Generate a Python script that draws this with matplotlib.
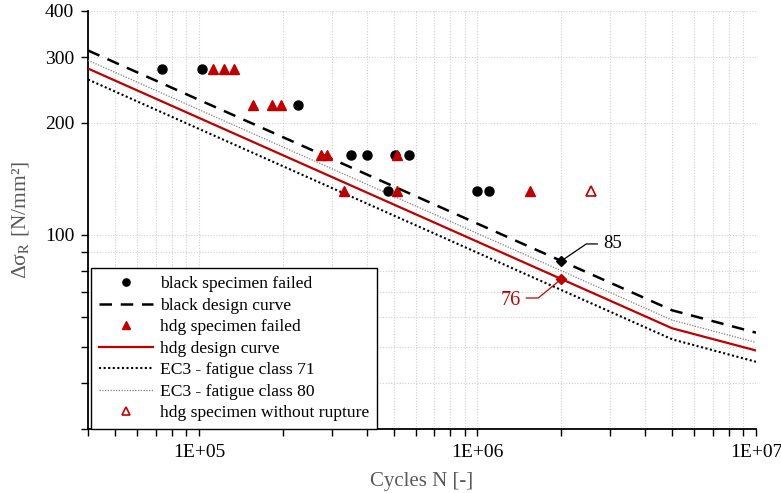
import matplotlib
matplotlib.use("Agg")
import matplotlib.pyplot as plt
from matplotlib.ticker import FixedLocator, NullFormatter, FixedFormatter

plt.rcParams["font.family"] = ["Liberation Serif", "DejaVu Serif"]
plt.rcParams["mathtext.fontset"] = "stix"

# design curve breakpoints (N, stress range) - EC3 style curves
curve_n = [4e4, 2e6, 5e6, 1e7]
black_curve = [313.2, 85.0, 62.6, 54.5]
hdg_curve = [280.0, 76.0, 56.0, 48.8]
ec3_71 = [261.6, 71.0, 52.3, 45.5]
ec3_80 = [294.7, 80.0, 58.9, 51.3]

# test results
black_n = [7.4e4, 1.025e5, 2.27e5, 3.52e5, 4.02e5, 5.07e5, 5.69e5, 4.79e5, 1.0e6, 1.10e6]
black_s = [280, 280, 224, 164, 164, 164, 164, 131, 131, 131]
hdg_n = [1.12e5, 1.23e5, 1.34e5, 1.56e5, 1.83e5, 1.97e5, 2.74e5, 2.88e5, 3.32e5, 5.15e5, 5.15e5, 1.54e6]
hdg_s = [280, 280, 280, 223, 223, 223, 164, 164, 131, 164, 131, 131]
runout_n = [2.55e6]
runout_s = [131]

ref_n = 2e6
ref_black = 85
ref_hdg = 76

RED = "#c00000"

fig = plt.figure(figsize=(7.81, 4.93), dpi=100)
ax = fig.add_axes([0.1127, 0.1298, 0.968 - 0.1127, 0.9777 - 0.1298])
ax.set_xscale("log")
ax.set_yscale("log")
ax.set_xlim(4e4, 1e7)
ax.set_ylim(30, 400)

ax.plot(black_n, black_s, "o", color="black", ms=6.5, ls="none",
        label="black specimen failed", zorder=4)
ax.plot(curve_n, black_curve, color="black", ls=(0, (5, 3.5)), lw=1.8,
        label="black design curve", zorder=3)
ax.plot(hdg_n, hdg_s, "^", color=RED, ms=7.5, ls="none",
        label="hdg specimen failed", zorder=5)
ax.plot(curve_n, hdg_curve, color=RED, lw=1.6, label="hdg design curve", zorder=3)
ax.plot(curve_n, ec3_71, color="black", ls=(0, (1, 1.2)), lw=1.5,
        label="EC3 - fatigue class 71", zorder=3)
ax.plot(curve_n, ec3_80, color="#7f7f7f", ls=(0, (1, 1.2)), lw=0.9,
        label="EC3 - fatigue class 80", zorder=3)
ax.plot(runout_n, runout_s, "^", mfc="white", mec=RED, mew=1.2, ms=7.5, ls="none",
        label="hdg specimen without rupture", zorder=5)

# reference points at 2e6 cycles, with leader lines
ax.plot([ref_n], [ref_black], "D", color="black", ms=5.5, zorder=6)
ax.plot([ref_n], [ref_hdg], "D", color=RED, ms=5.5, zorder=6)

fig.canvas.draw()
bx, by = ax.transData.transform((ref_n, ref_black))
rx, ry = ax.transData.transform((ref_n, ref_hdg))
ax.plot([bx, bx + 25, bx + 36], [by, by + 17, by + 17], color="black", lw=0.9,
        transform=None, zorder=6, clip_on=False)
ax.annotate(str(ref_black), xy=(ref_n, ref_black), xytext=(42, 17),
            textcoords="offset pixels", fontsize=13.5, va="center", ha="left",
            color="black")
ax.plot([rx, rx - 23, rx - 35], [ry, ry - 19, ry - 19], color=RED, lw=0.9,
        transform=None, zorder=6, clip_on=False)
ax.annotate(str(ref_hdg), xy=(ref_n, ref_hdg), xytext=(-40, -21),
            textcoords="offset pixels", fontsize=14.5, va="center", ha="right",
            color=RED)

# ticks
ax.xaxis.set_major_locator(FixedLocator([1e5, 1e6, 1e7]))
ax.xaxis.set_major_formatter(FixedFormatter(["1E+05", "1E+06", "1E+07"]))
xminor = [m * 10 ** e for e in (4, 5, 6) for m in range(2, 10) if 4e4 <= m * 10 ** e < 1e7]
ax.xaxis.set_minor_locator(FixedLocator(xminor))
ax.xaxis.set_minor_formatter(NullFormatter())
ax.yaxis.set_major_locator(FixedLocator([100, 200, 300, 400]))
ax.yaxis.set_major_formatter(FixedFormatter(["100", "200", "300", "400"]))
ax.yaxis.set_minor_locator(FixedLocator([30, 40, 50, 60, 70, 80, 90]))
ax.yaxis.set_minor_formatter(NullFormatter())
ax.tick_params(which="both", direction="out", length=5, width=1, color="black",
               labelsize=14)
ax.tick_params(axis="x", pad=6)
ax.tick_params(axis="y", pad=5)

ax.grid(True, which="both", color="#d0d0d0", ls=(0, (1, 1.5)), lw=0.8)
ax.set_axisbelow(True)
for side in ("top", "right"):
    ax.spines[side].set_visible(False)
for side in ("left", "bottom"):
    ax.spines[side].set_linewidth(1.3)

ax.set_xlabel("Cycles N [-]", fontsize=15, color="#595959", labelpad=8)
ax.set_ylabel("Δσ$_\\mathrm{R}$ [N/mm²]", fontsize=15.5, color="#595959",
              labelpad=10)

leg = ax.legend(loc="lower left", bbox_to_anchor=(0.004, 0.0), fontsize=12.6,
                frameon=True, fancybox=False, edgecolor="black", framealpha=1,
                handlelength=3.1, borderpad=0.45, labelspacing=0.3,
                handletextpad=0.4, borderaxespad=0.0, markerscale=0.8)
leg.get_frame().set_linewidth(1.0)

fig.savefig("out.png", dpi=100)
